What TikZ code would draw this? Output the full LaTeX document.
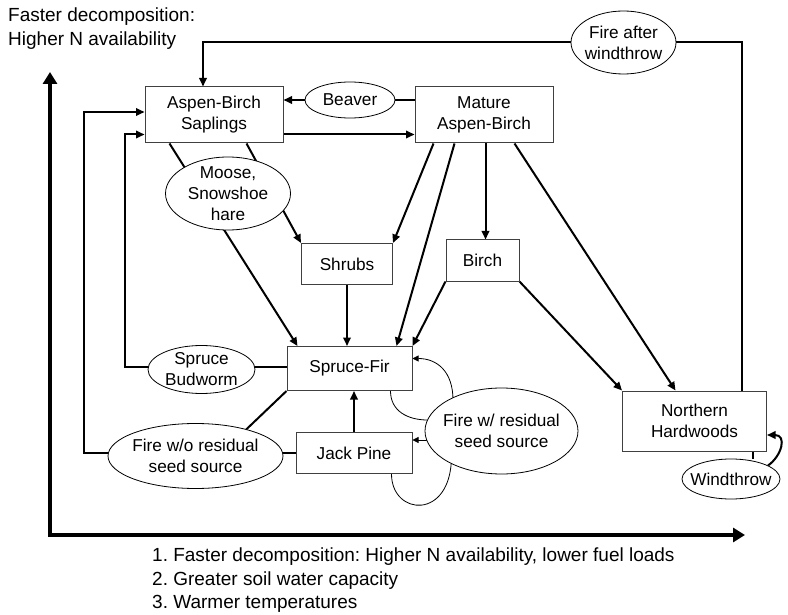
\documentclass[tikz,border=0pt]{standalone}
\usepackage{fontspec}
\setmainfont{Liberation Sans}
\usetikzlibrary{arrows.meta,calc,backgrounds,shapes.geometric}
\newcommand\ndfont{\fontsize{17.2}{21}\selectfont}
\newcommand\ntfont{\fontsize{19}{23.5}\selectfont}
\frenchspacing
\begin{document}
\begin{tikzpicture}[x=1pt,y=-1pt,
  box/.style={draw=black!75,line width=1pt,fill=white,rectangle,inner sep=0pt,align=center,font=\ndfont},
  oval/.style={draw=black,line width=0.8pt,fill=white,ellipse,inner sep=-6pt,align=center,font=\ndfont},
  conn/.style={line width=2pt,-{Triangle[length=8.5pt,width=7.5pt]}},
  plain/.style={line width=2pt},
  thinline/.style={line width=0.8pt},
  thinarrow/.style={line width=0.8pt,-{Triangle[length=6pt,width=6pt]}},
  axis/.style={line width=4.5pt,line join=miter,{Triangle[length=12pt,width=14pt]}-{Triangle[length=12pt,width=14pt]}},
  note/.style={font=\ntfont,align=left,inner sep=0pt,anchor=north west}
]
\useasboundingbox (0,0) rectangle (788,615);

% nodes
\node[box,minimum width=138,minimum height=56] (sap) at (214,115) {Aspen-Birch\\Saplings};
\node[box,minimum width=138,minimum height=56] (mat) at (484,115) {Mature\\Aspen-Birch};
\node[oval,minimum width=90,minimum height=36] (beaver) at (350,100) {Beaver};
\node[oval,minimum width=105,minimum height=63] (faw) at (623.5,42.5) {Fire after\\windthrow};
\node[oval,minimum width=125,minimum height=73] (moose) at (228,193.5) {Moose,\\Snowshoe\\hare};
\node[box,minimum width=91,minimum height=41] (shrubs) at (347,264) {Shrubs};
\node[box,minimum width=73,minimum height=41] (birch) at (482.5,260.5) {Birch};
\node[box,minimum width=125,minimum height=44] (sf) at (349.5,368.5) {Spruce-Fir};
\node[oval,minimum width=107,minimum height=48] (bud) at (201.5,369.5) {Spruce\\Budworm};
\node[box,minimum width=144,minimum height=60] (nh) at (694.5,421) {Northern\\Hardwoods};
\node[oval,minimum width=98,minimum height=40] (wt) at (731,479) {Windthrow};
\node[box,minimum width=116,minimum height=41] (jp) at (354,453) {Jack Pine};
\node[oval,minimum width=175,minimum height=65] (fwo) at (195.5,456) {Fire w/o residual\\seed source};
\node[oval,minimum width=153,minimum height=86] (fwr) at (501.5,431) {Fire w/ residual\\seed source};

\node[note] (topnote) at (8,8) {Faster decomposition:\\Higher N availability};
\node[note] (botnote) at (152,548) {1. Faster decomposition: Higher N availability, lower fuel loads\\2. Greater soil water capacity\\3. Warmer temperatures};

\begin{scope}[on background layer]
  % axes
  \coordinate (ytip) at (50,72);
  \coordinate (origin) at (50,535);
  \coordinate (xtip) at (745,535);
  \draw[axis] (ytip) -- (origin) -- (xtip);

  % beaver
  \draw[plain] (beaver.east) -- (beaver.east -| mat.west);
  \draw[conn] (beaver.west) -- (beaver.west -| sap.east);
  % saplings -> mature
  \coordinate (s1) at ($(sap.south east)+(0,-9)$);
  \draw[conn] (s1) -- (s1 -| mat.west);
  % fire after windthrow loop
  \coordinate (n0) at ($(nh.north east)+(-25.5,0)$);
  \coordinate (s0) at ($(sap.north)+(-11,0)$);
  \draw[plain] (n0) |- (faw.east);
  \draw[conn] (faw.west) -| (s0);
  % left feedback loops
  \coordinate (f1) at ($(fwo.west)+(10,-3)$);
  \draw[conn] (f1) -- ++(-34,0) |- ($(sap.west)+(0,-3)$);
  \coordinate (b1) at ($(bud.west)+(8,-2.5)$);
  \draw[conn] (b1) -- ++(-30.3,0) |- (s1 -| sap.west);
  \coordinate (b2) at ($(bud.east)+(-5,-2.5)$);
  \draw[plain] (b2) -- (b2 -| sf.west);
  % saplings outflows
  \draw[conn] ($(sap.south west)+(25,0)$) -- ($(sf.north west)+(11,0)$);
  \draw[conn] ($(sap.south west)+(102,0)$) -- (shrubs.north west);
  \draw[conn] (shrubs.south) -- (shrubs.south |- sf.north);
  % mature outflows
  \draw[conn] ($(mat.south west)+(19,0)$) -- (shrubs.north east);
  \draw[conn] ($(mat.south west)+(40,0)$) -- ($(sf.north east)+(-16,0)$);
  \coordinate (m3) at ($(mat.south west)+(71,0)$);
  \draw[conn] (m3) -- (m3 |- birch.north);
  \draw[conn] ($(mat.south west)+(100,0)$) -- ($(nh.north west)+(53.5,0)$);
  % birch outflows
  \draw[conn] (birch.south west) -- (sf.north east);
  \draw[conn] (birch.south east) -- (nh.north west);
  % windthrow
  \coordinate (n2) at ($(nh.south east)+(-14.5,0)$);
  \draw[plain] (n2) -- (n2 |- wt.north);
  \draw[conn] (wt.20) .. controls +(14,-10) and +(20,0) .. ($(nh.east)+(0,14)$);
  % jack pine
  \draw[conn] (jp.north) -- (jp.north |- sf.south);
  \draw[plain] (jp.west) -- ++(-25,0);
  \draw[plain] (sf.south west) -- ($(fwo.north)+(49,8)$);
  % fire with residual seed source
  \draw[thinline] ($(sf.south east)+(-22,0)$) .. controls +(0,20) and +(-20,0) .. ($(fwr.west)+(3,-11)$);
  \draw[thinarrow] ($(fwr.center)+(-48.5,-31)$) .. controls +(0,-28) and +(25,0) .. ($(sf.east)+(0,-10)$);
  \draw[thinarrow] ($(fwr.center)+(-60,9)$) -- ($(jp.east)+(0,-13)$);
  \draw[thinline] ($(jp.south east)+(-21,0)$) .. controls +(0,42) and +(0,65) .. ($(fwr.center)+(-50,25)$);
\end{scope}
\end{tikzpicture}
\end{document}
